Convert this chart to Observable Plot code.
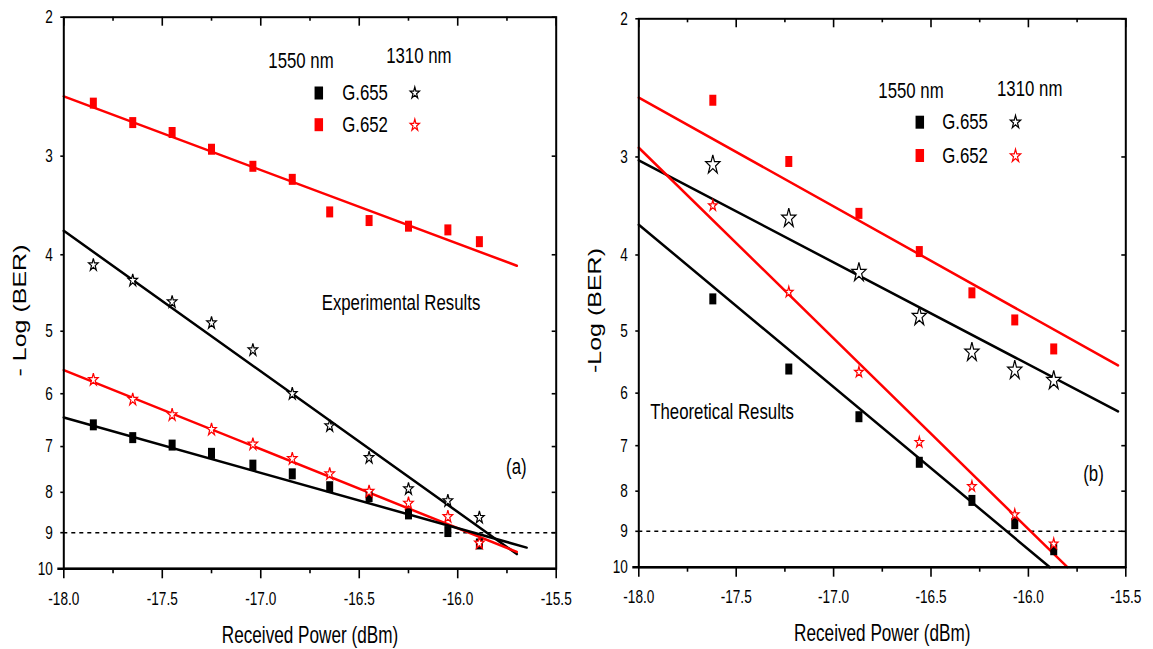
<!DOCTYPE html>
<html><head><meta charset="utf-8">
<script src="https://cdn.jsdelivr.net/npm/d3@7"></script>
<script src="https://cdn.jsdelivr.net/npm/@observablehq/plot@0.6"></script>
<style>
html,body{margin:0;padding:0;background:#fff;}
#wrap{position:relative;width:1153px;height:649px;overflow:hidden;background:#fff;}
#pa,#pb{position:absolute;top:0;}
#pa{left:0;} #pb{left:576px;}
</style></head><body>
<div id="wrap"><div id="pa"></div><div id="pb"></div></div>
<script>
// ---------- DATA ----------
// Panel (a) Experimental results
const powerA = [-17.85, -17.65, -17.45, -17.25, -17.04, -16.84, -16.65, -16.45, -16.25, -16.05, -15.89];
const expG655_1550 = [6.57, 6.82, 6.97, 7.14, 7.39, 7.58, 7.87, 8.10, 8.52, 8.97, 9.30];
const expG652_1550 = [2.57, 2.72, 2.80, 2.94, 3.09, 3.21, 3.53, 3.62, 3.68, 3.72, 3.85];
const expG655_1310 = [4.12, 4.31, 4.59, 4.88, 5.28, 6.00, 6.59, 7.23, 7.92, 8.20, 8.61];
const expG652_1310 = [5.76, 6.10, 6.38, 6.66, 6.95, 7.25, 7.58, 7.98, 8.26, 8.59, 9.28];
// fitted lines (a): [start, end]
const fitA_G652_1550 = {x: [-18, -15.70], y: [2.52, 4.13]};
const fitA_G655_1310 = {x: [-18, -15.70], y: [3.73, 9.58]};
const fitA_G652_1310 = {x: [-18, -15.70], y: [5.60, 9.52]};
const fitA_G655_1550 = {x: [-18, -15.65], y: [6.43, 9.40]};

// Panel (b) Theoretical results
const powerB = [-17.62, -17.23, -16.87, -16.56, -16.29, -16.07, -15.87];
const thG655_1550 = [4.55, 5.59, 6.43, 7.35, 8.22, 8.80, 9.50];
const thG652_1550 = [2.54, 3.04, 3.54, 3.96, 4.47, 4.84, 5.27];
const thG655_1310 = [3.07, 3.59, 4.21, 4.79, 5.32, 5.61, 5.78];
const thG652_1310 = [3.46, 4.46, 5.64, 6.93, 7.89, 8.57, 9.34];
const fitB_G652_1550 = {x: [-18, -15.54], y: [2.52, 5.53]};
const fitB_G655_1310 = {x: [-18, -15.54], y: [3.03, 6.33]};
const fitB_G652_1310 = {x: [-18, -15.80], y: [2.92, 10]};
const fitB_G655_1550 = {x: [-18, -15.89], y: [3.66, 10]};

const threshold = [9];
const xMajor = [-18.0, -17.5, -17.0, -16.5, -16.0, -15.5];
const xMinor = [-17.75, -17.25, -16.75, -16.25, -15.75];
const yTicks = [2, 3, 4, 5, 6, 7, 8, 9, 10];
const legendHead = ["1550 nm", "1310 nm"];
const legendFibers = ["G.655", "G.652"];

// ---------- HELPERS ----------
const RED = "#ff0000", BLACK = "#000000";
const FONT = "'Liberation Sans', Arial, sans-serif";
const SQZ = 0.74; // horizontal squeeze of the original figure

function rectSym(w, h) { return {draw(ctx) { ctx.rect(-w / 2, -h / 2, w, h); }}; }
function starSym(sx) {
  return {draw(ctx, size) {
    const p = {moveTo: (x, y) => ctx.moveTo(x * sx, y), lineTo: (x, y) => ctx.lineTo(x * sx, y), closePath: () => ctx.closePath()};
    d3.symbolStar.draw(p, size);
  }};
}
const rows = (xs, ys) => xs.map((x, i) => ({x, y: ys[i]}));
const fitRows = (f) => f.x.map((x, i) => ({x, y: f.y[i]}));
const T = {fill: BLACK, textAnchor: "middle", lineAnchor: "middle"};

function panel(cfg) {
  const {width, height, mt, mb, ml, mr} = cfg;
  const fh = height - mt - mb, fw = width - ml - mr;
  const L = cfg.legend;
  const marks = [
    Plot.ruleY(threshold, {stroke: BLACK, strokeWidth: 1.4, strokeDasharray: "4,4"}),
    ...cfg.fits.map(f => Plot.line(fitRows(f.d), {x: "x", y: "y", stroke: f.c, strokeWidth: 2.5})),
    ...cfg.squares.map(s => Plot.dot(s.d, {x: "x", y: "y", symbol: rectSym(7, 11), fill: s.c, stroke: "none", r: 4})),
    ...cfg.stars.map(s => Plot.dot(s.d, {x: "x", y: "y", symbol: starSym(s.sx), fill: "white", stroke: s.c, strokeWidth: 1.2, r: s.r})),
    Plot.frame({stroke: BLACK, strokeWidth: 2}),
    Plot.ruleY([10], {stroke: BLACK, strokeWidth: 2.6, insetLeft: -6}),
    // ticks
    Plot.ruleX(xMajor, {stroke: BLACK, strokeWidth: 1.6, insetTop: fh, insetBottom: -10}),
    Plot.ruleX(xMinor, {stroke: BLACK, strokeWidth: 1.6, insetTop: fh, insetBottom: -5}),
    Plot.ruleX(xMajor, {stroke: BLACK, strokeWidth: 1.6, insetBottom: fh - 9}),
    Plot.ruleX(xMinor, {stroke: BLACK, strokeWidth: 1.6, insetBottom: fh - 4}),
    Plot.ruleY(yTicks, {stroke: BLACK, strokeWidth: 1.6, insetRight: fw, insetLeft: -3}),
    Plot.ruleY(yTicks, {stroke: BLACK, strokeWidth: 1.6, insetLeft: fw - 4}),
    // tick labels
    Plot.text(xMajor, {...T, x: d => d, frameAnchor: "bottom", dy: 30, text: d => d.toFixed(1), fontSize: 18.4}),
    Plot.text(yTicks, {...T, y: d => d, frameAnchor: "left", dx: -11, textAnchor: "end", text: d => String(d), fontSize: 18.4}),
    // axis titles
    Plot.text(["Received Power (dBm)"], {...T, frameAnchor: "bottom", dy: 66.8, fontSize: 23.2}),
    Plot.text([cfg.yTitle], {...T, frameAnchor: "left", dx: cfg.yTitleDx, dy: 17.5, rotate: -90, fontSize: 25}),
    // legend
    Plot.text([legendHead[0]], {...T, frameAnchor: "top-left", dx: L.h1[0], dy: L.h1[1], fontSize: 22.7}),
    Plot.text([legendHead[1]], {...T, frameAnchor: "top-left", dx: L.h2[0], dy: L.h2[1], fontSize: 22.7}),
    Plot.text([legendFibers[0]], {...T, frameAnchor: "top-left", dx: L.tx, dy: L.r1, textAnchor: "start", fontSize: 22.7}),
    Plot.text([legendFibers[1]], {...T, frameAnchor: "top-left", dx: L.tx, dy: L.r2, textAnchor: "start", fontSize: 22.7}),
    Plot.dot([0], {frameAnchor: "top-left", dx: L.sq, dy: L.r1, symbol: rectSym(8.5, 13), fill: BLACK, r: 4}),
    Plot.dot([0], {frameAnchor: "top-left", dx: L.sq, dy: L.r2, symbol: rectSym(8.5, 13), fill: RED, r: 4}),
    Plot.dot([0], {frameAnchor: "top-left", dx: L.st, dy: L.r1, symbol: starSym(0.8), fill: "white", stroke: BLACK, strokeWidth: 1.2, r: L.sr}),
    Plot.dot([0], {frameAnchor: "top-left", dx: L.st, dy: L.r2 + 0.5, symbol: starSym(0.8), fill: "white", stroke: RED, strokeWidth: 1.2, r: L.sr}),
    // annotations
    Plot.text([cfg.note], {...T, frameAnchor: "top-left", dx: cfg.noteAt[0], dy: cfg.noteAt[1], fontSize: 22.7}),
    Plot.text([cfg.tag], {...T, frameAnchor: "top-left", dx: cfg.tagAt[0], dy: cfg.tagAt[1], fontSize: 22.7})
  ];
  const svg = Plot.plot({
    width, height, marginTop: mt, marginBottom: mb, marginLeft: ml, marginRight: mr,
    style: {fontFamily: FONT, background: "white", color: "black", overflow: "visible"},
    x: {domain: [-18, -15.5], axis: null},
    y: {type: "log", domain: [10, 2], axis: null},
    marks
  });
  svg.querySelectorAll("text").forEach(t => {
    const tr = t.getAttribute("transform");
    if (tr) t.setAttribute("transform", tr.replace(/^(translate\([^)]*\))/, `$1 scale(${SQZ},1)`));
  });
  return svg;
}

document.getElementById("pa").appendChild(panel({
  width: 576, height: 649, mt: 16.7, mb: 80.7, ml: 63.3, mr: 20.3,
  yTitle: "- Log (BER)", yTitleDx: -43.8,
  fits: [
    {d: fitA_G652_1550, c: RED}, {d: fitA_G655_1310, c: BLACK},
    {d: fitA_G652_1310, c: RED}, {d: fitA_G655_1550, c: BLACK}
  ],
  squares: [{d: rows(powerA, expG652_1550), c: RED}, {d: rows(powerA, expG655_1550), c: BLACK}],
  stars: [{d: rows(powerA, expG655_1310), c: BLACK, r: 3.9, sx: 0.78}, {d: rows(powerA, expG652_1310), c: RED, r: 3.9, sx: 0.78}],
  legend: {h1: [237.2, 43.3], h2: [355, 38.3], tx: 278.4, r1: 75.8, r2: 107.5, sq: 255, st: 351, sr: 3.7},
  note: "Experimental Results", noteAt: [337.2, 285.3],
  tag: "(a)", tagAt: [452.5, 449.3]
}));

document.getElementById("pb").appendChild(panel({
  width: 577, height: 649, mt: 18.3, mb: 82.3, ml: 62.3, mr: 27.7,
  yTitle: "-Log (BER)", yTitleDx: -43.3,
  fits: [
    {d: fitB_G652_1550, c: RED}, {d: fitB_G655_1310, c: BLACK},
    {d: fitB_G652_1310, c: RED}, {d: fitB_G655_1550, c: BLACK}
  ],
  squares: [{d: rows(powerB, thG652_1550), c: RED}, {d: rows(powerB, thG655_1550), c: BLACK}],
  stars: [{d: rows(powerB, thG655_1310), c: BLACK, r: 6, sx: 0.75}, {d: rows(powerB, thG652_1310), c: RED, r: 3.4, sx: 0.8}],
  legend: {h1: [272.2, 72.2], h2: [390.9, 69.7], tx: 303.4, r1: 103.4, r2: 136.7, sq: 281, st: 376.7, sr: 4.1},
  note: "Theoretical Results", noteAt: [83.3, 392.7],
  tag: "(b)", tagAt: [454.7, 454.7]
}));
</script>
</body></html>
